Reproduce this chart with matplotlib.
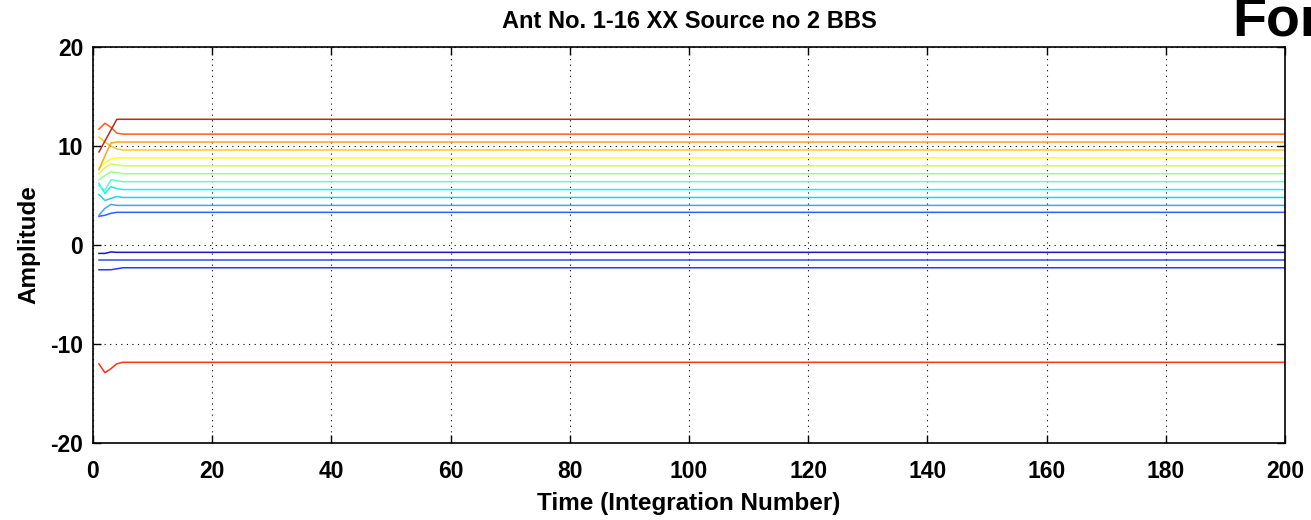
import numpy as np
import matplotlib
matplotlib.use("Agg")
import matplotlib.pyplot as plt

# Integration numbers on the time axis
n_integrations = 200
time = np.arange(1, n_integrations + 1)

# Amplitude per antenna: the first few integrations settle, then hold steady
ant_head = {
    1: [-0.85, -0.85, -0.70],
    2: [-1.50],
    3: [-2.50, -2.50, -2.50, -2.40],
    4: [2.90, 3.00, 3.20],
    5: [3.00, 3.70, 4.10],
    6: [5.10, 4.50, 4.70, 4.90],
    7: [6.20, 5.20, 5.90, 5.70],
    8: [6.00, 5.50, 6.60, 6.50],
    9: [6.60, 7.00, 7.40, 7.30],
    10: [7.20, 7.80, 8.20, 8.10],
    11: [7.80, 8.30, 8.70],
    12: [10.90, 10.40, 10.00, 9.70],
    13: [7.60, 9.00, 10.30],
    14: [11.70, 12.30, 11.90, 11.30],
    15: [-12.00, -12.90, -12.50, -12.00],
    16: [9.40, 10.50, 11.60],
}
ant_steady = {
    1: -0.74, 2: -1.50, 3: -2.30, 4: 3.30, 5: 4.00, 6: 4.80, 7: 5.60, 8: 6.40,
    9: 7.20, 10: 8.00, 11: 8.80, 12: 9.60, 13: 10.40, 14: 11.20, 15: -11.85, 16: 12.70,
}
ant_colors = [
    "#0000b4", "#1a3ae6", "#0a28ff", "#1450ff", "#2a9cff", "#10c8ff",
    "#00f0ff", "#50ffc8", "#90ff80", "#c8ff3c", "#ffff00", "#ffc400",
    "#ff9a00", "#ff4a00", "#ff1a00", "#b81400",
]

xticks = [0, 20, 40, 60, 80, 100, 120, 140, 160, 180, 200]
yticks = [-20, -10, 0, 10, 20]

plt.rcParams["font.family"] = ["Liberation Sans", "DejaVu Sans"]
plt.rcParams["font.weight"] = "bold"
plt.rcParams["axes.unicode_minus"] = False

fig = plt.figure(figsize=(13.11, 5.20), dpi=100)
ax = fig.add_axes([93 / 1311, 1 - 443 / 520, (1285 - 93) / 1311, (443 - 47) / 520])

for i, ant in enumerate(sorted(ant_head)):
    head = np.array(ant_head[ant], dtype=float)
    series = np.concatenate([head, np.full(n_integrations - len(head), ant_steady[ant])])
    ax.plot(time, series, color=ant_colors[i], lw=1.1, alpha=0.9)

ax.set_xlim(0, 200)
ax.set_ylim(-20, 20)
ax.set_xticks(xticks)
ax.set_yticks(yticks)
ax.grid(True, color="black", linestyle=(0, (1, 4)), linewidth=0.8)
ax.tick_params(direction="in", top=True, right=True, length=6, width=1,
               labelsize=16.5)
ax.tick_params(axis="x", pad=12)
ax.tick_params(axis="y", pad=7)
for lbl in ax.get_xticklabels() + ax.get_yticklabels():
    lbl.set_fontweight("bold")
for spine in ax.spines.values():
    spine.set_linewidth(1.2)

ax.set_title("Ant No. 1-16 XX Source no 2 BBS", fontsize=17, fontweight="bold", pad=14)
ax.set_xlabel("Time (Integration Number)", fontsize=17.5, fontweight="bold", labelpad=7)
ax.set_ylabel("Amplitude", fontsize=17.5, fontweight="bold", labelpad=7)

fig.text(1232 / 1311, 1 - 22 / 520, "For", fontsize=40, fontweight="bold",
         ha="left", va="center")

fig.savefig("out.png", dpi=100)
